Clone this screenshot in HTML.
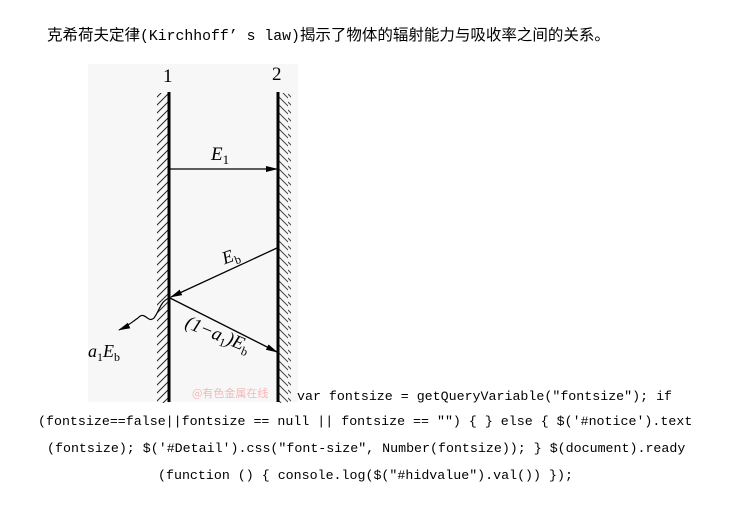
<!DOCTYPE html>
<html><head><meta charset="utf-8"><style>
body{margin:0;width:730px;height:524px;background:#fff;position:relative;overflow:hidden;font-family:"Liberation Mono","Noto Sans CJK SC",monospace;}
.t{position:absolute;font-size:13.3px;color:#000;white-space:nowrap;font-family:"Liberation Mono",monospace;}
</style></head><body>
<div class="t" style="left:47px;top:23px;font-family:'Noto Sans CJK SC',sans-serif;font-size:15.5px">克希荷夫定律<span style="font-family:'Liberation Mono',monospace;font-size:14.8px">(Kirchhoff’ s law)</span>揭示了物体的辐射能力与吸收率之间的关系。</div>
<svg style="position:absolute;left:0;top:0" width="730" height="524">
<defs>
<pattern id="h" width="12" height="8" patternUnits="userSpaceOnUse"><line x1="0" y1="10" x2="12" y2="-2" stroke="#222" stroke-width="1"/><line x1="0" y1="2" x2="12" y2="-10" stroke="#222" stroke-width="1"/><line x1="0" y1="18" x2="12" y2="6" stroke="#222" stroke-width="1"/></pattern>
<pattern id="h2" width="12" height="8" patternUnits="userSpaceOnUse"><line x1="0" y1="-2" x2="12" y2="10" stroke="#444" stroke-width="1"/><line x1="0" y1="6" x2="12" y2="18" stroke="#444" stroke-width="1"/><line x1="0" y1="-10" x2="12" y2="2" stroke="#444" stroke-width="1"/></pattern>
<marker id="a" markerWidth="12" markerHeight="8" refX="11" refY="4" orient="auto" markerUnits="userSpaceOnUse"><path d="M0,1 L12,4 L0,7 Z" fill="#000"/></marker>
</defs>
<rect x="88" y="64" width="210" height="338" fill="#f7f7f7"/>
<rect x="157" y="93" width="12" height="310" fill="url(#h)"/>
<rect x="279" y="93" width="12" height="310" fill="url(#h2)"/>
<line x1="169" y1="92" x2="169" y2="402" stroke="#000" stroke-width="3"/>
<line x1="278" y1="92" x2="278" y2="402" stroke="#000" stroke-width="3"/>
<line x1="170" y1="169" x2="277" y2="169" stroke="#000" stroke-width="1.3" marker-end="url(#a)"/>
<line x1="277" y1="248" x2="171" y2="297" stroke="#000" stroke-width="1.3" marker-end="url(#a)"/>
<line x1="170" y1="298" x2="277" y2="352" stroke="#000" stroke-width="1.3" marker-end="url(#a)"/>
<path d="M169,298 C160,302 160,310 154,318 C148,324 145,310 138,318 C132,322 128,326 119,330" fill="none" stroke="#000" stroke-width="1.2" marker-end="url(#a)"/>
<g font-family="Liberation Serif,serif" fill="#000">
<text x="163" y="82" font-size="19">1</text>
<text x="272" y="80" font-size="19">2</text>
<text x="211" y="160" font-size="19" font-style="italic">E<tspan font-size="13" dy="4" font-style="normal">1</tspan></text>
<text x="222" y="262" font-size="18" font-style="italic" transform="rotate(-20 230 256)">E<tspan font-size="12" dy="4" font-style="normal">b</tspan></text>
<text x="184" y="327" font-size="19" font-style="italic" transform="rotate(22 184 327)">(1−a<tspan font-size="12" dy="4" font-style="normal">1</tspan><tspan dy="-4">)E</tspan><tspan font-size="12" dy="4" font-style="normal">b</tspan></text>
<text x="88" y="357" font-size="18" font-style="italic">a<tspan font-size="12" dy="4" font-style="normal">1</tspan><tspan dy="-4">E</tspan><tspan font-size="12" dy="4" font-style="normal">b</tspan></text>
</g>
<text x="192" y="397" font-size="11" fill="#f2b8b8" font-family="Noto Sans CJK SC,sans-serif">@有色金属在线</text>
</svg>
<div class="t" style="left:297px;top:389px">var fontsize = getQueryVariable("fontsize"); if</div>
<div class="t" style="left:38px;top:414px">(fontsize==false||fontsize == null || fontsize == "") { } else { $('#notice').text</div>
<div class="t" style="left:47px;top:441px">(fontsize); $('#Detail').css("font-size", Number(fontsize)); } $(document).ready</div>
<div class="t" style="left:158px;top:468px">(function () { console.log($("#hidvalue").val()) });</div>
</body></html>
